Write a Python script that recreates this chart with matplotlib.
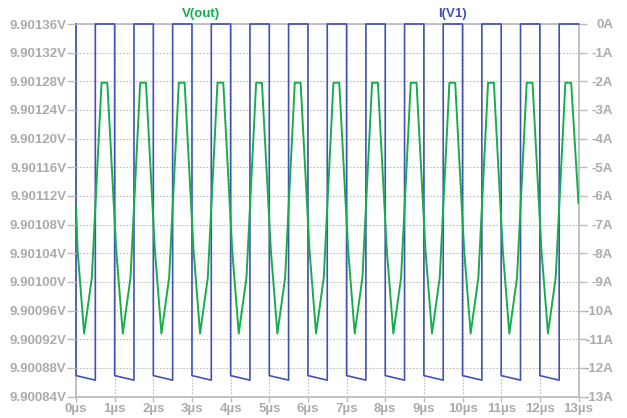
import matplotlib
matplotlib.use("Agg")
import matplotlib.pyplot as plt

# time axis (µs)
x_ticks = [0, 1, 2, 3, 4, 5, 6, 7, 8, 9, 10, 11, 12, 13]
x_labels = ["%dµs" % t for t in x_ticks]

# left axis: V(out)
v_ticks = [9.90084, 9.90088, 9.90092, 9.90096, 9.90100, 9.90104, 9.90108,
           9.90112, 9.90116, 9.90120, 9.90124, 9.90128, 9.90132, 9.90136]
# right axis: I(V1)
i_ticks = [-13, -12, -11, -10, -9, -8, -7, -6, -5, -4, -3, -2, -1, 0]

# V(out) trace
vout_t = [0.0,
          0.04, 0.21, 0.41, 0.66, 0.81,
          1.04, 1.21, 1.41, 1.66, 1.81,
          2.04, 2.21, 2.41, 2.66, 2.81,
          3.04, 3.21, 3.41, 3.66, 3.81,
          4.04, 4.21, 4.41, 4.66, 4.81,
          5.04, 5.21, 5.41, 5.66, 5.81,
          6.04, 6.21, 6.41, 6.66, 6.81,
          7.04, 7.21, 7.41, 7.66, 7.81,
          8.04, 8.21, 8.41, 8.66, 8.81,
          9.04, 9.21, 9.41, 9.66, 9.81,
          10.04, 10.21, 10.41, 10.66, 10.81,
          11.04, 11.21, 11.41, 11.66, 11.81,
          12.04, 12.21, 12.41, 12.66, 12.81,
          13.0]
vout_v = [9.901105,
          9.901045, 9.900928, 9.901006, 9.901278, 9.901278,
          9.901045, 9.900928, 9.901006, 9.901278, 9.901278,
          9.901045, 9.900928, 9.901006, 9.901278, 9.901278,
          9.901045, 9.900928, 9.901006, 9.901278, 9.901278,
          9.901045, 9.900928, 9.901006, 9.901278, 9.901278,
          9.901045, 9.900928, 9.901006, 9.901278, 9.901278,
          9.901045, 9.900928, 9.901006, 9.901278, 9.901278,
          9.901045, 9.900928, 9.901006, 9.901278, 9.901278,
          9.901045, 9.900928, 9.901006, 9.901278, 9.901278,
          9.901045, 9.900928, 9.901006, 9.901278, 9.901278,
          9.901045, 9.900928, 9.901006, 9.901278, 9.901278,
          9.901045, 9.900928, 9.901006, 9.901278, 9.901278,
          9.901045, 9.900928, 9.901006, 9.901278, 9.901278,
          9.901110]

# I(V1) trace
iv1_t = [0, 0, 0.5, 0.5, 1, 1, 1.5, 1.5, 2, 2, 2.5, 2.5, 3, 3, 3.5, 3.5,
         4, 4, 4.5, 4.5, 5, 5, 5.5, 5.5, 6, 6, 6.5, 6.5, 7, 7, 7.5, 7.5,
         8, 8, 8.5, 8.5, 9, 9, 9.5, 9.5, 10, 10, 10.5, 10.5, 11, 11, 11.5, 11.5,
         12, 12, 12.5, 12.5, 13]
iv1_a = [0, -12.27, -12.43, 0, 0, -12.27, -12.43, 0, 0, -12.27, -12.43, 0,
         0, -12.27, -12.43, 0, 0, -12.27, -12.43, 0, 0, -12.27, -12.43, 0,
         0, -12.27, -12.43, 0, 0, -12.27, -12.43, 0, 0, -12.27, -12.43, 0,
         0, -12.27, -12.43, 0, 0, -12.27, -12.43, 0, 0, -12.27, -12.43, 0,
         0, -12.27, -12.43, 0, 0]

plt.rcParams['font.family'] = ['Liberation Sans', 'DejaVu Sans']

green = "#17ad4c"
blue = "#4252b4"
axis_grey = "#bcbcbc"
label_grey = "#ababab"

fig = plt.figure(figsize=(6.27, 4.18), dpi=100)
ax = fig.add_axes([76 / 627, 21.5 / 418, 502.5 / 627, 372.5 / 418])
ax2 = ax.twinx()

# current axis below, voltage axis on top
ax2.set_zorder(1)
ax.set_zorder(2)
ax.patch.set_visible(False)

ax.set_xlim(0, 13)
ax.set_ylim(9.90084, 9.90136)
ax2.set_ylim(-13, 0)

ax2.plot(iv1_t, iv1_a, color=blue, lw=1.2, zorder=3, clip_on=False)
ax.plot(vout_t, vout_v, color=green, lw=1.4, zorder=3)

ax.set_xticks(x_ticks)
ax.set_xticklabels(x_labels)
ax.set_yticks(v_ticks)
ax.set_yticklabels(["%.5fV" % v for v in v_ticks])
ax2.set_yticks(i_ticks)
ax2.set_yticklabels(["%dA" % i for i in i_ticks])

# grid on the lower axes so the traces sit over it
ax2.xaxis.set_visible(True)
ax2.set_xticks(x_ticks)
ax2.tick_params(axis="x", bottom=False, top=False, labelbottom=False, labeltop=False)
ax2.grid(True, color="#bdbdbd", lw=0.8, ls=(0, (1.5, 1.5)))

for s in ax.spines.values():
    s.set_visible(False)
for s in ax2.spines.values():
    s.set_color(axis_grey)
    s.set_linewidth(1.3)

ax.tick_params(axis="y", direction="out", length=6.5, width=1.0, color=axis_grey,
               labelcolor=label_grey, labelsize=9.5, pad=0.5)
ax.tick_params(axis="x", direction="out", length=3.5, width=1.0, color=axis_grey,
               labelcolor=label_grey, labelsize=9.5, pad=1.5)
ax2.tick_params(axis="y", direction="out", length=6, width=1.0, color=axis_grey,
                labelcolor=label_grey, labelsize=9.5, pad=19)
for lab in ax2.get_yticklabels():
    lab.set_horizontalalignment("right")
for lab in ax.get_xticklabels() + ax.get_yticklabels() + ax2.get_yticklabels():
    lab.set_fontweight("bold")

fig.text(201 / 627, 1 - 14 / 418, "V(out)", color=green, fontsize=9.5,
         fontweight="bold", ha="center", va="center")
fig.text(452 / 627, 1 - 14 / 418, "I(V1)", color=blue, fontsize=9.5,
         fontweight="bold", ha="center", va="center")

fig.savefig("out.png", dpi=100)
